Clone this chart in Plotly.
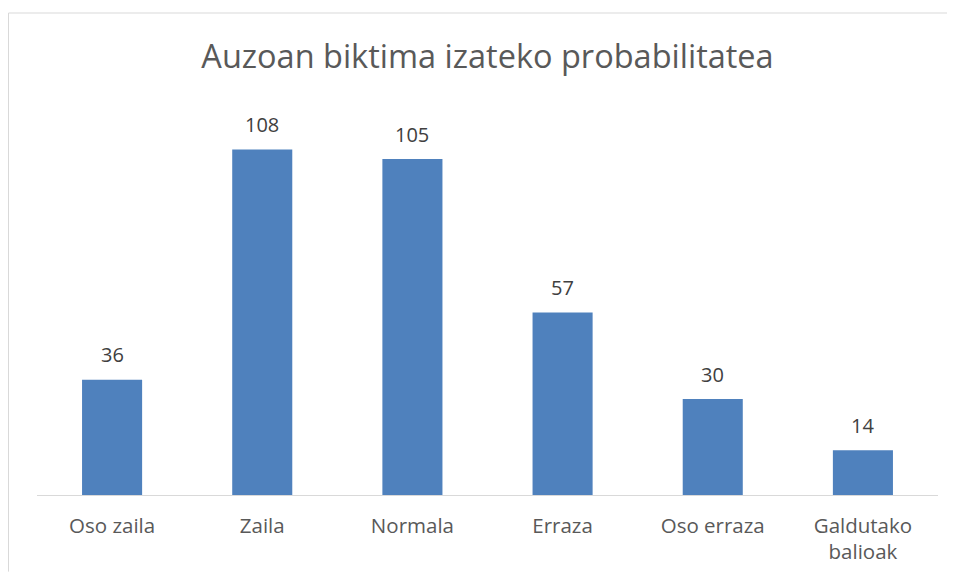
import plotly.graph_objects as go

categories = ["Oso zaila", "Zaila", "Normala", "Erraza", "Oso erraza", "Galdutako<br>balioak"]
values = [36, 108, 105, 57, 30, 14]
title_text = "Auzoan biktima izateko probabilitatea"

# page body has an 8px margin; figure is sized/offset to compensate (no scrollbars)
W, H = 939, 566
L, R, T, B = 29, 9, 103, 77
pw, ph = W - L - R, H - T - B

fig = go.Figure()
fig.add_trace(go.Bar(
    x=categories, y=values,
    marker=dict(color="#4F81BD", line=dict(width=0)),
    width=0.4,
    hoverinfo="skip",
))

for c, v in zip(categories, values):
    fig.add_annotation(x=c, y=v, text=str(v), showarrow=False, yshift=25,
                       font=dict(family="Open Sans", size=20, color="#404040"))

# chart-area frame (only top and left edges are visible in the reference crop)
bx0 = (0.5 - L) / pw
bx1 = (W - L) / pw
by_top = ((H - B) - 4.5) / ph
by_bot = -B / ph
fig.add_shape(type="line", xref="paper", yref="paper", x0=bx0, x1=bx1, y0=by_top, y1=by_top,
              line=dict(color="#D9D9D9", width=1), layer="below")
fig.add_shape(type="line", xref="paper", yref="paper", x0=bx0, x1=bx0, y0=by_top, y1=by_bot,
              line=dict(color="#D9D9D9", width=1), layer="below")

fig.update_layout(
    width=W, height=H,
    margin=dict(l=L, r=R, t=T, b=B, pad=0),
    paper_bgcolor="white", plot_bgcolor="white",
    showlegend=False,
    title=dict(text=title_text, x=0.5, xref="paper", xanchor="center",
               y=1 - 49 / H, yanchor="middle", yref="container",
               font=dict(family="Open Sans", size=32.5, color="#595959")),
    xaxis=dict(showgrid=False, showline=True, linecolor="#D9D9D9", linewidth=1,
               ticks="", tickfont=dict(family="Open Sans", size=20.5, color="#595959"),
               zeroline=False, ticklabelstandoff=12),
    yaxis=dict(range=[0, 120], visible=False, showgrid=False, zeroline=False),
    font=dict(family="Open Sans"),
)

fig.write_html("out.html")
